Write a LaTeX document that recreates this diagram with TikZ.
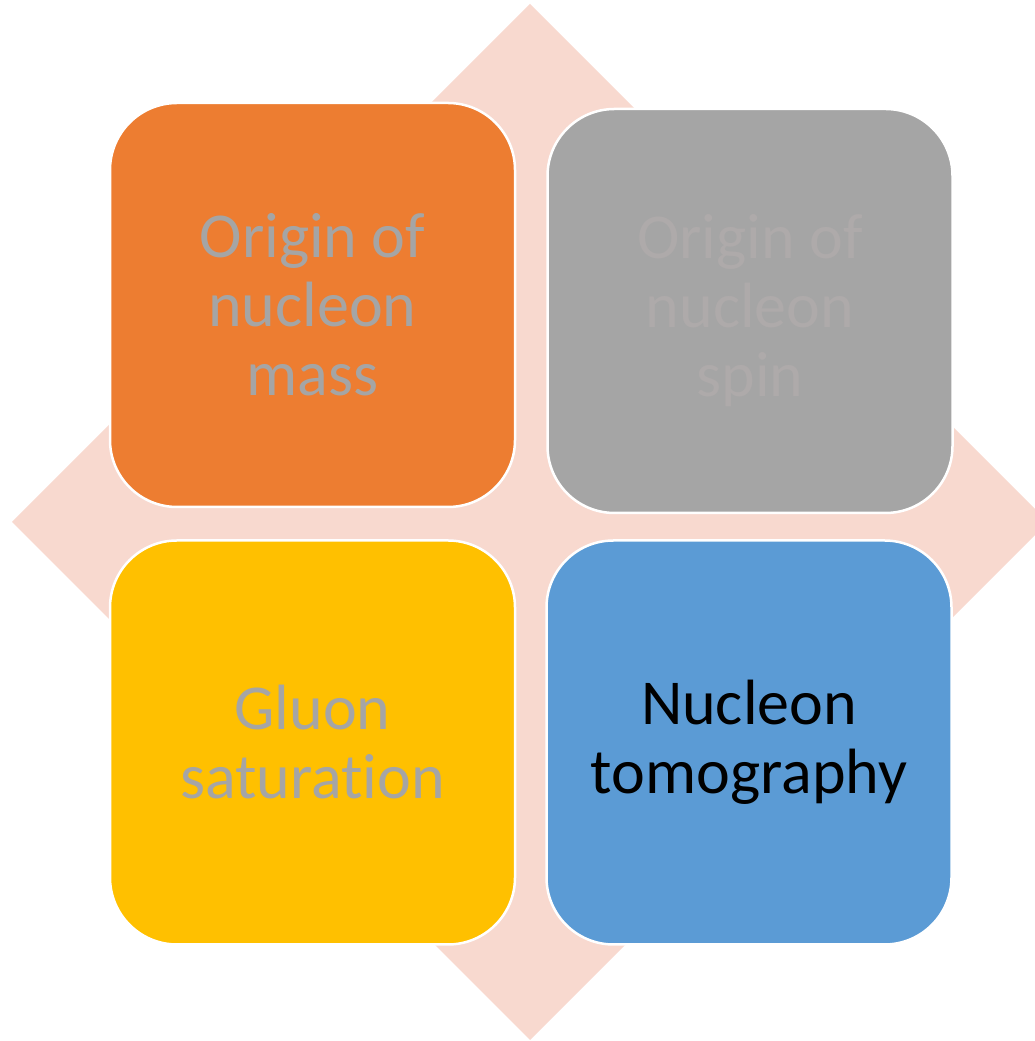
\documentclass[tikz,border=0pt]{standalone}
\usepackage{fontspec}
\setmainfont[Ligatures=CommonOff]{Carlito}
\usetikzlibrary{positioning}
\definecolor{backdrop}{HTML}{F8D9CF}
\definecolor{massorange}{HTML}{ED7D31}
\definecolor{spingray}{HTML}{A5A5A5}
\definecolor{satyellow}{HTML}{FFC000}
\definecolor{tomoblue}{HTML}{5B9BD5}
\definecolor{labelgray}{HTML}{A5A5A5}
\definecolor{labelpale}{HTML}{AEAAAA}
\tikzset{
    tile/.style = {
      rounded corners=67pt, draw=white, line width=2.5pt,
      minimum width=405pt, minimum height=404pt, inner sep=0,
      align=center, font=\fontsize{64}{69}\selectfont, text=labelgray,
    },
    diamond fill/.style = {fill=backdrop},
}

\begin{document}
\begin{tikzpicture}[x=1pt, y=1pt]
    \useasboundingbox (0,0) rectangle (1035,1041);

    %% Background diamond behind the four tiles
    \coordinate (hub) at (530,519);
    \fill [diamond fill] ([yshift=518pt] hub) -- ([xshift=-518pt] hub)
      -- ([yshift=-518pt] hub) -- ([xshift=518pt] hub) -- cycle;

    %% The four tiles
    \node [tile, fill=massorange] (mass) at (312.5,736) {Origin of\\nucleon\\mass};
    \node [tile, fill=spingray, text=labelpale, right=30pt of mass, yshift=-6pt]
          (spin) {Origin of\\nucleon\\spin};
    \node [tile, fill=satyellow, below=31pt of mass] (saturation) {Gluon\\saturation};
    \node [tile, fill=tomoblue, text=black, right=29pt of saturation]
          (tomography) {Nucleon\\tomography};
\end{tikzpicture}
\end{document}
